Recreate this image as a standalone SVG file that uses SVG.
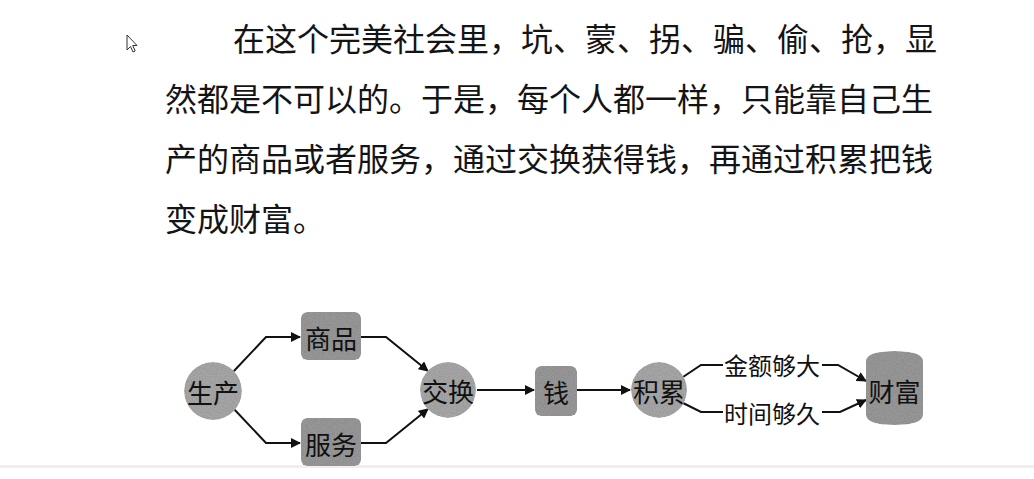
<svg xmlns="http://www.w3.org/2000/svg" width="1034" height="479" viewBox="0 0 1034 479">
  <style>
    .para { font-family: "Noto Sans CJK SC", "Noto Sans", sans-serif; font-size: 32px; fill: #141414; }
    .lbl { font-family: "Noto Sans CJK SC", "Noto Sans", sans-serif; font-size: 26px; fill: #111; text-anchor: middle; dominant-baseline: central; }
    .edge-lbl { font-family: "Noto Sans CJK SC", "Noto Sans", sans-serif; font-size: 24px; fill: #111; text-anchor: middle; dominant-baseline: central; }
    .shape { fill: #a9a9a9; filter: url(#grain); }
    .shape-dark { fill: #9a9a9a; filter: url(#grain); }
    .conn { fill: none; stroke: #111; stroke-width: 2; marker-end: url(#arrow); }
    .plain { fill: none; stroke: #111; stroke-width: 2; }
  </style>
  <defs>
    <marker id="arrow" viewBox="0 0 10 10" refX="9" refY="5" markerWidth="5" markerHeight="5" orient="auto" markerUnits="strokeWidth">
      <path d="M0,0 L10,5 L0,10 Z" fill="#111"/>
    </marker>
    <filter id="grain" x="0" y="0" width="100%" height="100%">
      <feTurbulence type="fractalNoise" baseFrequency="1.1" numOctaves="1" seed="4" result="t"/>
      <feColorMatrix in="t" type="saturate" values="0" result="g"/>
      <feComponentTransfer in="g" result="g2">
        <feFuncR type="linear" slope="0.6" intercept="0.6"/>
        <feFuncG type="linear" slope="0.6" intercept="0.6"/>
        <feFuncB type="linear" slope="0.6" intercept="0.6"/>
        <feFuncA type="linear" slope="0" intercept="1"/>
      </feComponentTransfer>
      <feBlend in="SourceGraphic" in2="g2" mode="multiply" result="b"/>
      <feComposite in="b" in2="SourceGraphic" operator="in"/>
    </filter>
  </defs>

  <rect x="0" y="0" width="1034" height="479" fill="#ffffff"/>
  <rect x="0" y="465" width="1034" height="3" fill="#eeeeee"/>

  <!-- mouse cursor -->
  <path d="M127,35 L127,50 L130.5,46.5 L133,52 L135.2,51 L132.7,45.5 L137,45.5 Z" fill="#ffffff" stroke="#333" stroke-width="1"/>

  <!-- paragraph -->
  <g id="paragraph">
    <text class="para" x="233" y="51">在这个完美社会里，坑、蒙、拐、骗、偷、抢，显</text>
    <text class="para" x="165" y="111">然都是不可以的。于是，每个人都一样，只能靠自己生</text>
    <text class="para" x="165" y="171">产的商品或者服务，通过交换获得钱，再通过积累把钱</text>
    <text class="para" x="165" y="231">变成财富。</text>
  </g>

  <!-- connectors -->
  <g id="connectors">
    <path class="conn" d="M233,372 L266,337 L300,337"/>
    <path class="conn" d="M233,408 L266,443 L300,443"/>
    <path class="conn" d="M361,337 L386,337 L428,371"/>
    <path class="conn" d="M361,443 L386,443 L428,409"/>
    <path class="conn" d="M477,390 L534,390"/>
    <path class="conn" d="M577,390 L630,390"/>
    <path class="plain" d="M683,377 L701,365 L723,365"/>
    <path class="plain" d="M683,403 L701,412 L723,412"/>
    <path class="conn" d="M822,365 L838,365 L866,381"/>
    <path class="conn" d="M822,412 L840,412 L866,400"/>
    <text class="edge-lbl" x="772" y="364">金额够大</text>
    <text class="edge-lbl" x="772" y="412">时间够久</text>
  </g>

  <g id="node-shengchan">
    <circle class="shape" cx="213" cy="391" r="29"/>
    <text class="lbl" x="213" y="391">生产</text>
  </g>
  <g id="node-shangpin">
    <rect class="shape-dark" x="301" y="312" width="60" height="48" rx="6"/>
    <text class="lbl" x="331" y="337">商品</text>
  </g>
  <g id="node-fuwu">
    <rect class="shape-dark" x="301" y="418" width="60" height="48" rx="6"/>
    <text class="lbl" x="331" y="443">服务</text>
  </g>
  <g id="node-jiaohuan">
    <circle class="shape" cx="448" cy="390" r="28"/>
    <text class="lbl" x="448" y="390">交换</text>
  </g>
  <g id="node-qian">
    <rect class="shape-dark" x="535" y="366" width="42" height="50" rx="6"/>
    <text class="lbl" x="556" y="391">钱</text>
  </g>
  <g id="node-jilei">
    <circle class="shape" cx="659" cy="390" r="28"/>
    <text class="lbl" x="659" y="390">积累</text>
  </g>
  <g id="node-caifu">
    <path class="shape-dark" d="M866,361 Q866,351 894.5,351 Q923,351 923,361 L923,415 Q923,425 894.5,425 Q866,425 866,415 Z"/>
    <text class="lbl" x="894.5" y="390">财富</text>
  </g>
</svg>
